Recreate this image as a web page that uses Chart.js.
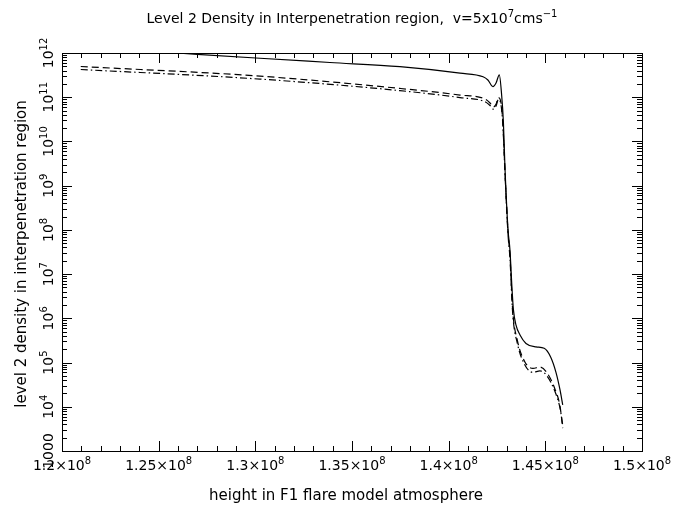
<!DOCTYPE html>
<html>
<head>
<meta charset="utf-8">
<script src="https://cdn.jsdelivr.net/npm/chart.js@4.4.1/dist/chart.umd.min.js"></script>
<style>
  html, body { margin: 0; padding: 0; background: #fff; }
  canvas { display: block; }
</style>
</head>
<body>
<canvas id="grafico" width="687" height="512"></canvas>
<script>
// alturas (cm) y densidades
const alturaSolida = [1.2097e8, 1.2595e8, 1.3024e8, 1.3386e8, 1.3748e8, 1.4059e8, 1.4178e8, 1.4203e8, 1.4229e8, 1.4245e8, 1.4262e8, 1.4274e8, 1.4283e8, 1.4291e8, 1.4307e8, 1.4317e8, 1.4328e8, 1.4335e8, 1.4348e8, 1.4369e8, 1.4400e8, 1.4452e8, 1.4494e8, 1.4528e8, 1.4555e8, 1.4576e8, 1.4590e8];
const densidadSolida = [1.38e12, 1.0e12, 7.6e11, 6.1e11, 4.9e11, 3.5e11, 2.9e11, 2.45e11, 1.74e11, 2.1e11, 3.2e11, 1.12e11, 2.8e10, 2.7e9, 1.0e8, 3.5e7, 4.4e6, 1.55e6, 7.1e5, 4.2e5, 2.7e5, 2.26e5, 2.1e5, 1.32e5, 6.0e4, 2.4e4, 1.1e4];

const alturaRayas = [1.2097e8, 1.3024e8, 1.3748e8, 1.4059e8, 1.4188e8, 1.4214e8, 1.4231e8, 1.4245e8, 1.4257e8, 1.4271e8, 1.4281e8, 1.4291e8, 1.4307e8, 1.4317e8, 1.4331e8, 1.4355e8, 1.4395e8, 1.4436e8, 1.4472e8, 1.4507e8, 1.4550e8, 1.4576e8, 1.4590e8];
const densidadRayas = [4.95e11, 3.0e11, 1.58e11, 1.12e11, 9.1e10, 7.4e10, 6.0e10, 6.9e10, 9.8e10, 7.4e10, 2.3e10, 2.2e9, 8.9e7, 2.7e7, 1.55e6, 3.2e5, 1.02e5, 7.4e4, 7.9e4, 6.0e4, 2.5e4, 1.02e4, 3.3e3];
const densidadPuntoRaya = [4.24e11, 2.57e11, 1.41e11, 9.8e10, 7.9e10, 6.5e10, 5.4e10, 6.3e10, 8.9e10, 6.6e10, 2.1e10, 2.0e9, 7.9e7, 2.3e7, 1.32e6, 2.75e5, 8.7e4, 6.0e4, 6.5e4, 5.1e4, 2.2e4, 9.3e3, 3.8e3];

const ticksX = [1.2e8, 1.25e8, 1.3e8, 1.35e8, 1.4e8, 1.45e8, 1.5e8];
const etiquetasX = ['1.2', '1.25', '1.3', '1.35', '1.4', '1.45', '1.5'];
const ticksY = [1e3, 1e4, 1e5, 1e6, 1e7, 1e8, 1e9, 1e10, 1e11, 1e12];
const exponentesY = [null, '4', '5', '6', '7', '8', '9', '10', '11', '12'];

const titulo = [['Level 2 Density in Interpenetration region,  v=5x10', false], ['7', true], ['cms', false], ['\u22121', true]];
const tituloX = 'height in F1 flare model atmosphere';
const tituloY = 'level 2 density in interpenetration region';

function puntos(xs, ys) {
    return xs.map((x, i) => ({ x: x, y: ys[i] }));
}

const FUENTE = '"DejaVu Sans", sans-serif';

// dibuja texto con partes en superindice, centrado en x
function textoSup(ctx, partes, x, y, tam) {
    const chico = Math.round(tam * 0.72);
    let ancho = 0;
    partes.forEach(p => {
        ctx.font = (p[1] ? chico : tam) + 'px ' + FUENTE;
        ancho += ctx.measureText(p[0]).width;
    });
    let cx = x - ancho / 2;
    ctx.textAlign = 'left';
    ctx.textBaseline = 'alphabetic';
    partes.forEach(p => {
        ctx.font = (p[1] ? chico : tam) + 'px ' + FUENTE;
        ctx.fillText(p[0], cx, p[1] ? y - tam * 0.45 : y);
        cx += ctx.measureText(p[0]).width;
    });
}

const marcoYTextos = {
    id: 'marcoYTextos',
    afterDraw(chart) {
        const ctx = chart.ctx;
        const a = chart.chartArea;
        const sx = chart.scales.x;
        const sy = chart.scales.y;
        ctx.save();
        ctx.strokeStyle = '#000';
        ctx.fillStyle = '#000';
        ctx.lineWidth = 1;
        ctx.strokeRect(Math.round(a.left) + 0.5, Math.round(a.top) + 0.5, Math.round(a.right - a.left), Math.round(a.bottom - a.top));

        // marcas eje x (mayores cada 5e6, menores cada 1e6)
        ctx.beginPath();
        for (let i = 0; i <= 30; i++) {
            const px = Math.round(sx.getPixelForValue(1.2e8 + i * 1e6)) + 0.5;
            const largo = i % 5 === 0 ? 10 : 5;
            ctx.moveTo(px, a.bottom); ctx.lineTo(px, a.bottom - largo);
            ctx.moveTo(px, a.top); ctx.lineTo(px, a.top + largo);
        }
        // marcas eje y logaritmico
        for (let d = 3; d <= 12; d++) {
            for (let m = 1; m <= 9; m++) {
                if (d === 12 && m > 1) break;
                const py = Math.round(sy.getPixelForValue(m * Math.pow(10, d))) + 0.5;
                const largo = m === 1 ? 10 : 5;
                ctx.moveTo(a.left, py); ctx.lineTo(a.left + largo, py);
                ctx.moveTo(a.right, py); ctx.lineTo(a.right - largo, py);
            }
        }
        ctx.stroke();

        // etiquetas eje x
        ticksX.forEach((v, i) => {
            textoSup(ctx, [[etiquetasX[i] + '\u00d710', false], ['8', true]], sx.getPixelForValue(v), 470, 14);
        });

        // etiquetas eje y (rotadas)
        ticksY.forEach((v, i) => {
            const py = sy.getPixelForValue(v);
            ctx.save();
            ctx.translate(a.left - 9, py);
            ctx.rotate(-Math.PI / 2);
            const partes = exponentesY[i] ? [['10', false], [exponentesY[i], true]] : [['1000', false]];
            textoSup(ctx, partes, 0, 0, 14);
            ctx.restore();
        });

        // titulos
        textoSup(ctx, titulo, (a.left + a.right) / 2, 23, 14);
        textoSup(ctx, [[tituloX, false]], (a.left + a.right) / 2 - 6, 500, 15);
        ctx.save();
        ctx.translate(26, (a.top + a.bottom) / 2 + 2);
        ctx.rotate(-Math.PI / 2);
        textoSup(ctx, [[tituloY, false]], 0, 0, 15);
        ctx.restore();
        ctx.restore();
    }
};

const ctx = document.getElementById('grafico').getContext('2d');

new Chart(ctx, {
    type: 'line',
    data: {
        datasets: [{
            label: 'solida',
            data: puntos(alturaSolida, densidadSolida),
            borderColor: '#000',
            borderWidth: 1.2,
            pointRadius: 0,
            cubicInterpolationMode: 'monotone',
            clip: 0
        }, {
            label: 'rayas',
            data: puntos(alturaRayas, densidadRayas),
            borderColor: '#000',
            borderWidth: 1.2,
            borderDash: [7, 4],
            pointRadius: 0,
            cubicInterpolationMode: 'monotone',
            clip: 0
        }, {
            label: 'punto-raya',
            data: puntos(alturaRayas, densidadPuntoRaya),
            borderColor: '#000',
            borderWidth: 1.2,
            borderDash: [7, 3, 1.5, 3],
            pointRadius: 0,
            cubicInterpolationMode: 'monotone',
            clip: 0
        }]
    },
    options: {
        responsive: false,
        animation: false,
        devicePixelRatio: 1,
        layout: { padding: { left: 62, right: 45, top: 53, bottom: 61 } },
        plugins: { legend: { display: false }, tooltip: { enabled: false } },
        scales: {
            x: { type: 'linear', min: 1.2e8, max: 1.5e8, display: false },
            y: { type: 'logarithmic', min: 1e3, max: 1e12, display: false }
        }
    },
    plugins: [marcoYTextos]
});
</script>
</body>
</html>
